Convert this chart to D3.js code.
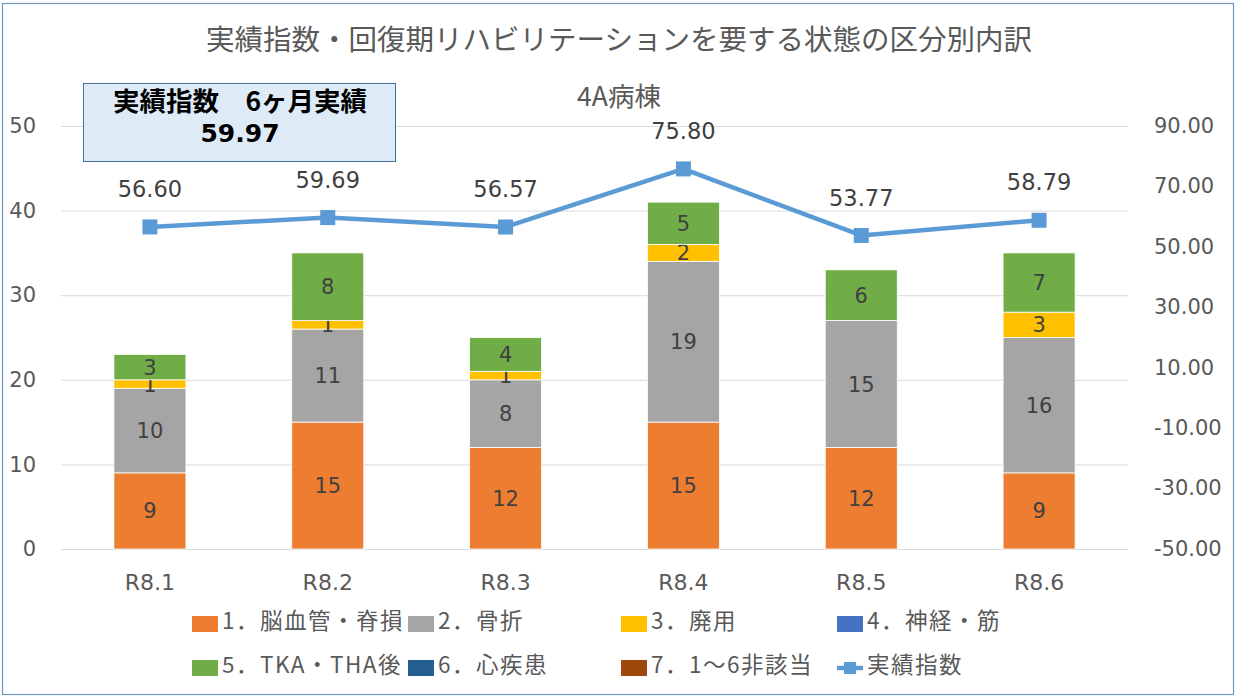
<!DOCTYPE html>
<meta charset="utf-8">
<head>
  <meta charset="UTF-8">
  <title>実績指数・区分別内訳</title>
  <script src="https://d3js.org/d3.v7.min.js"></script>
  <style>
    body { margin: 0; background: #fff; }
    svg { display: block; }
  </style>
</head>
<body>
<div id="chart"></div>
<script>

// data
var months = ["R8.1", "R8.2", "R8.3", "R8.4", "R8.5", "R8.6"];
var seriesNames = ["1．脳血管・脊損", "2．骨折", "3．廃用", "4．神経・筋",
                   "5．TKA・THA後", "6．心疾患", "7．1～6非該当"];
var noukekkan   = [9, 15, 12, 15, 12, 9];
var kossetsu    = [10, 11, 8, 19, 15, 16];
var haiyou      = [1, 1, 1, 2, 0, 3];
var shinkei     = [0, 0, 0, 0, 0, 0];
var tkaTha      = [3, 8, 4, 5, 6, 7];
var shinshikkan = [0, 0, 0, 0, 0, 0];
var higaitou    = [0, 0, 0, 0, 0, 0];
var jissekiShisu = [56.60, 59.69, 56.57, 75.80, 53.77, 58.79];
var leftTicks  = [0, 10, 20, 30, 40, 50];
var rightTicks = [-50, -30, -10, 10, 30, 50, 70, 90];

var colors = ["#ED7D31", "#A5A5A5", "#FFC000", "#4472C4", "#70AD47", "#255E91", "#9E480E"];
var lineColor = "#5B9BD5";

var W = 1237, H = 698;
var plot = {left: 61, right: 1128, top: 126, bottom: 549};

var svg = d3.select("#chart").append("svg")
    .attr("width", W)
    .attr("height", H);

// outer frame
svg.append("rect")
    .attr("x", 2.5).attr("y", 3.5)
    .attr("width", 1231).attr("height", 691)
    .attr("fill", "#fff")
    .attr("stroke", "#6E97BF")
    .attr("stroke-width", 1.2);

// build rows for the stack
var allSeries = [noukekkan, kossetsu, haiyou, shinkei, tkaTha, shinshikkan, higaitou];
var rows = months.map(function(m, i) {
  var r = {month: m};
  seriesNames.forEach(function(s, k) { r[s] = allSeries[k][i]; });
  return r;
});

var x = d3.scaleBand()
    .domain(months)
    .range([plot.left, plot.right])
    .padding(0);
var barW = x.bandwidth() * 0.405;

var yL = d3.scaleLinear().domain([0, 50]).range([plot.bottom, plot.top]);
var yR = d3.scaleLinear().domain([-50, 90]).range([plot.bottom, plot.top]);

// gridlines
svg.append("g").selectAll("line")
  .data(leftTicks)
  .enter().append("line")
    .attr("x1", plot.left).attr("x2", plot.right)
    .attr("y1", function(d) { return yL(d) + 0.5; })
    .attr("y2", function(d) { return yL(d) + 0.5; })
    .attr("stroke", "#D9D9D9")
    .attr("stroke-width", 1);

// left axis
var gl = svg.append("g")
    .attr("transform", "translate(36,0)")
    .call(d3.axisLeft(yL).tickValues(leftTicks).tickSize(0).tickPadding(0));
gl.select(".domain").remove();
gl.selectAll("text")
    .attr("fill", "#595959")
    .style("font-size", "21px")
    .style("font-family", "DejaVu Sans");

// right axis
var gr = svg.append("g")
    .attr("transform", "translate(1154,0)")
    .call(d3.axisRight(yR).tickValues(rightTicks).tickSize(0).tickPadding(0)
      .tickFormat(function(d) { return d.toFixed(2); }));
gr.select(".domain").remove();
gr.selectAll("text")
    .attr("fill", "#595959")
    .attr("dy", "0.3em")
    .style("font-size", "21px")
    .style("font-family", "DejaVu Sans");

// category axis
var gx = svg.append("g")
    .attr("transform", "translate(0," + 574 + ")")
    .call(d3.axisBottom(x).tickSize(0).tickPadding(0));
gx.select(".domain").remove();
gx.selectAll("text")
    .attr("fill", "#595959")
    .style("font-size", "22px")
    .style("font-family", "DejaVu Sans");

// stacked bars
var stacked = d3.stack().keys(seriesNames)(rows);

var layers = svg.append("g").selectAll("g")
  .data(stacked)
  .enter().append("g")
    .attr("fill", function(d, i) { return colors[i]; });

layers.selectAll("rect")
  .data(function(d) { return d.filter(function(p) { return p[1] - p[0] > 0; }); })
  .enter().append("rect")
    .attr("x", function(d) { return x(d.data.month) + (x.bandwidth() - barW) / 2; })
    .attr("y", function(d) { return yL(d[1]); })
    .attr("width", barW)
    .attr("height", function(d) { return yL(d[0]) - yL(d[1]); })
    .attr("stroke", "#fff")
    .attr("stroke-width", 0.8);

layers.selectAll("text")
  .data(function(d) { return d.filter(function(p) { return p[1] - p[0] > 0; }); })
  .enter().append("text")
    .attr("x", function(d) { return x(d.data.month) + x.bandwidth() / 2; })
    .attr("y", function(d) { return (yL(d[0]) + yL(d[1])) / 2; })
    .attr("dy", "0.36em")
    .attr("text-anchor", "middle")
    .attr("fill", "#404040")
    .style("font-family", "DejaVu Sans")
    .style("font-size", "21px")
    .text(function(d) { return d[1] - d[0]; });

// index line
var line = d3.line()
    .x(function(d, i) { return x(months[i]) + x.bandwidth() / 2; })
    .y(function(d) { return yR(d); });

svg.append("path")
    .datum(jissekiShisu)
    .attr("d", line)
    .attr("fill", "none")
    .attr("stroke", lineColor)
    .attr("stroke-width", 4.5)
    .attr("stroke-linejoin", "round");

svg.append("g").selectAll("rect")
  .data(jissekiShisu)
  .enter().append("rect")
    .attr("x", function(d, i) { return x(months[i]) + x.bandwidth() / 2 - 7.5; })
    .attr("y", function(d) { return yR(d) - 7.5; })
    .attr("width", 15).attr("height", 15)
    .attr("fill", lineColor);

svg.append("g").selectAll("text")
  .data(jissekiShisu)
  .enter().append("text")
    .attr("x", function(d, i) { return x(months[i]) + x.bandwidth() / 2; })
    .attr("y", function(d) { return yR(d) - 38; })
    .attr("dy", "0.36em")
    .attr("text-anchor", "middle")
    .attr("fill", "#404040")
    .style("font-family", "DejaVu Sans")
    .style("font-size", "22.5px")
    .text(function(d) { return d.toFixed(2); });

// titles
svg.append("text")
    .attr("x", 619).attr("y", 40)
    .attr("dy", "0.36em")
    .attr("text-anchor", "middle")
    .attr("fill", "#595959")
    .style("font-family", "Noto Sans CJK JP")
    .style("font-size", "28.5px")
    .text("実績指数・回復期リハビリテーションを要する状態の区分別内訳");

svg.append("text")
    .attr("x", 619).attr("y", 96)
    .attr("dy", "0.36em")
    .attr("text-anchor", "middle")
    .attr("fill", "#595959")
    .style("font-family", "Noto Sans CJK JP")
    .style("font-size", "26.5px")
    .text("4A病棟");

// summary box
svg.append("rect")
    .attr("x", 83.5).attr("y", 83.5)
    .attr("width", 312).attr("height", 78)
    .attr("fill", "#DEEBF7")
    .attr("stroke", "#41719C")
    .attr("stroke-width", 1);

svg.append("text")
    .attr("x", 240).attr("y", 101)
    .attr("dy", "0.36em")
    .attr("text-anchor", "middle")
    .attr("fill", "#000")
    .style("font-family", "Noto Sans CJK JP")
    .style("font-weight", "bold")
    .style("font-size", "26.5px")
    .text("実績指数　6ヶ月実績");

svg.append("text")
    .attr("x", 240).attr("y", 133)
    .attr("dy", "0.36em")
    .attr("text-anchor", "middle")
    .attr("fill", "#000")
    .style("font-family", "DejaVu Sans")
    .style("font-weight", "bold")
    .style("font-size", "25px")
    .text("59.97");

// legend
var legendCols = [192, 408, 621, 837];
var legendRows = [624, 668];
var legendItems = seriesNames.map(function(s, i) { return {name: s, color: colors[i], type: "box"}; });
legendItems.push({name: "実績指数", color: lineColor, type: "line"});

var lg = svg.append("g").selectAll("g")
  .data(legendItems)
  .enter().append("g")
    .attr("transform", function(d, i) {
      return "translate(" + legendCols[i % 4] + "," + legendRows[Math.floor(i / 4)] + ")";
    });

lg.filter(function(d) { return d.type === "box"; })
  .append("rect")
    .attr("x", 0).attr("y", -8)
    .attr("width", 26).attr("height", 16)
    .attr("fill", function(d) { return d.color; });

var lineItem = lg.filter(function(d) { return d.type === "line"; });
lineItem.append("line")
    .attr("x1", 0).attr("x2", 26).attr("y1", 0).attr("y2", 0)
    .attr("stroke", lineColor).attr("stroke-width", 4.5);
lineItem.append("rect")
    .attr("x", 7).attr("y", -6).attr("width", 12).attr("height", 12)
    .attr("fill", lineColor);

lg.append("text")
    .attr("x", 30).attr("y", -3)
    .attr("dy", "0.36em")
    .attr("fill", "#595959")
    .style("font-family", "Noto Sans CJK JP")
    .style("font-size", "22.5px")
    .style("letter-spacing", "1.5px")
    .text(function(d) { return d.name; });

</script>
</body>
